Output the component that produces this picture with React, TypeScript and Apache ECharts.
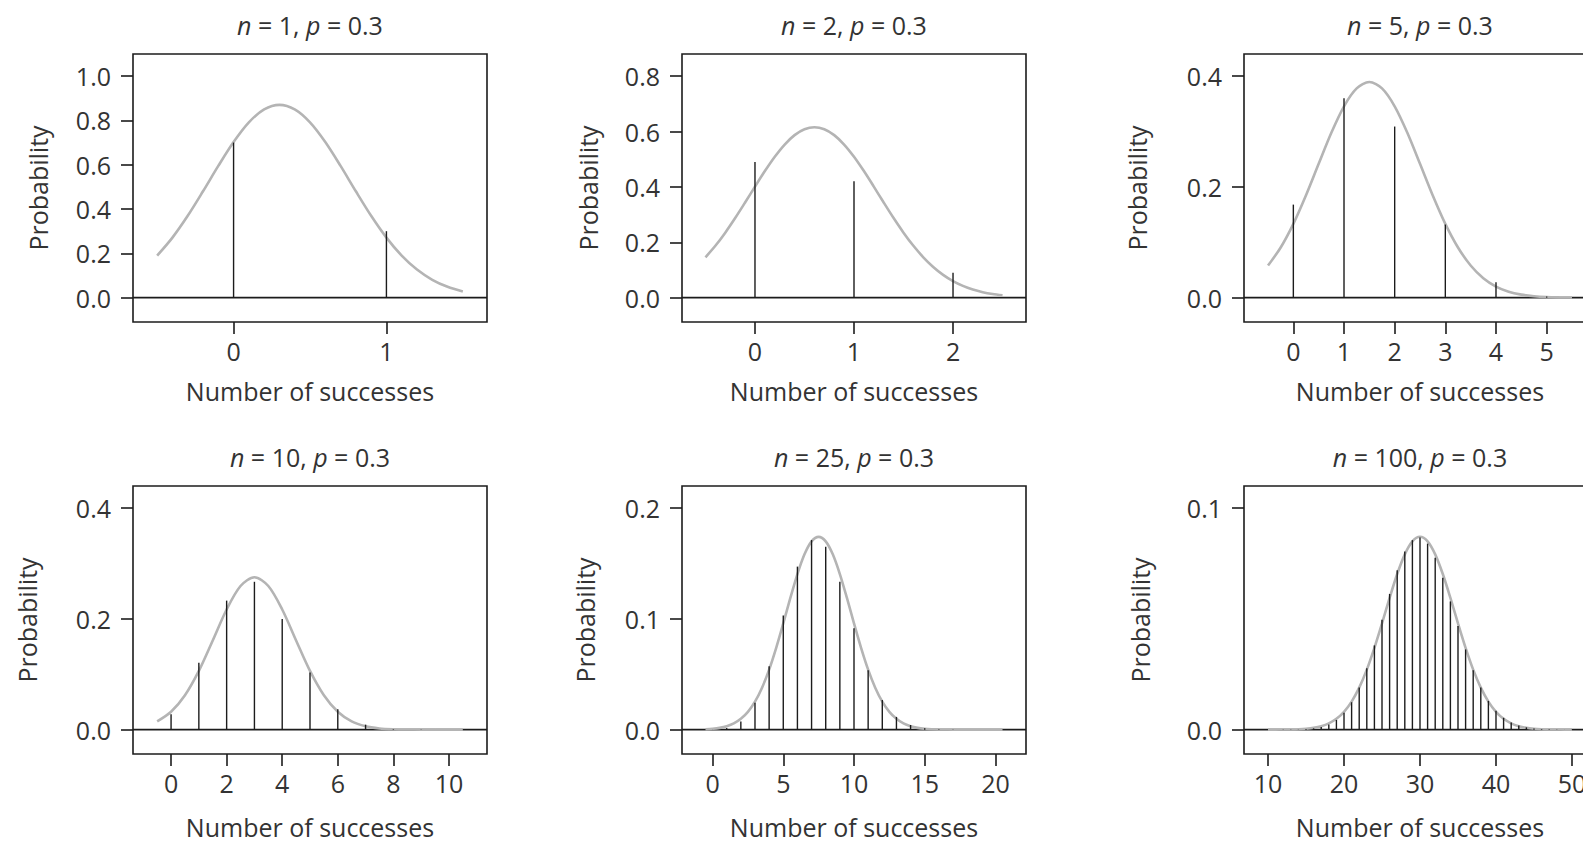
import React, { useEffect, useRef } from "react";
import * as echarts from "echarts";

// ---------------- data ----------------
const nValues = [1, 2, 5, 10, 25, 100];
const pLabel = "0.3";
const xLabel = "Number of successes";
const yLabel = "Probability";

// first k of each stem list
const stemStart = [0, 0, 0, 0, 0, 10];
const stemsN1 = [0.7, 0.3];
const stemsN2 = [0.49, 0.42, 0.09];
const stemsN5 = [0.168, 0.36, 0.309, 0.132, 0.028, 0.002];
const stemsN10 = [0.028, 0.121, 0.233, 0.267, 0.2, 0.103, 0.037, 0.009, 0.001, 0.0001, 0];
const stemsN25 = [
  0.0001, 0.0014, 0.0074, 0.0243, 0.0572, 0.103, 0.1472, 0.1712, 0.1651, 0.1336, 0.0916,
  0.0536, 0.0268, 0.0115, 0.0042, 0.0013, 0.0004, 0.0001, 0, 0, 0,
];
const stemsN100 = [
  0, 0, 0.00001, 0.00004, 0.0001, 0.00025, 0.00056, 0.00119, 0.00236, 0.00437, 0.00758,
  0.01237, 0.01904, 0.02767, 0.03804, 0.04956, 0.06127, 0.07197, 0.08041, 0.08556, 0.08678,
  0.08398, 0.07761, 0.06854, 0.05788, 0.04678, 0.0362, 0.02683, 0.01907, 0.01299, 0.00849,
  0.00533, 0.00321, 0.00185, 0.00103, 0.00055, 0.00028, 0.00014, 0.00007, 0.00003, 0.00001,
];
const stemValues = [stemsN1, stemsN2, stemsN5, stemsN10, stemsN25, stemsN100];

// grey curves: first x and spacing of the sampled points
const curveStart = [-0.5, -0.5, -0.5, -0.5, -0.5, 10];
const curveStep = [0.1, 0.1, 0.25, 0.5, 0.5, 1];
const curveN1 = [
  0.1897, 0.2711, 0.3695, 0.4801, 0.5947, 0.7026, 0.7915, 0.85, 0.8705, 0.85, 0.7915, 0.7026,
  0.5947, 0.4801, 0.3695, 0.2711, 0.1897, 0.1266, 0.0805, 0.0488, 0.0282,
];
const curveN2 = [
  0.1458, 0.1872, 0.2347, 0.2874, 0.3435, 0.401, 0.4571, 0.5089, 0.5531, 0.587, 0.6083, 0.6156,
  0.6083, 0.587, 0.5531, 0.5089, 0.4571, 0.401, 0.3435, 0.2874, 0.2347, 0.1872, 0.1458, 0.1109,
  0.0823, 0.0597, 0.0423, 0.0292, 0.0197, 0.013, 0.0084,
];
const curveN5 = [
  0.058, 0.0906, 0.1333, 0.185, 0.2418, 0.2978, 0.3456, 0.3779, 0.3893, 0.3779, 0.3456, 0.2978,
  0.2418, 0.185, 0.1333, 0.0906, 0.058, 0.035, 0.0199, 0.0106, 0.0054, 0.0026, 0.0011, 0.0005,
  0.0002,
];
const curveN10 = [
  0.0149, 0.0323, 0.0622, 0.1062, 0.1611, 0.217, 0.2594, 0.2753, 0.2594, 0.217, 0.1611, 0.1062,
  0.0622, 0.0323, 0.0149, 0.0061, 0.0022, 0.0007, 0.0002, 0.0001, 0, 0, 0,
];
const curveN25 = [
  0.0004, 0.0008, 0.0016, 0.0031, 0.0056, 0.0098, 0.0161, 0.0253, 0.0379, 0.0542, 0.0739, 0.096,
  0.1189, 0.1405, 0.1583, 0.17, 0.1741, 0.17, 0.1583, 0.1405, 0.1189, 0.096, 0.0739, 0.0542,
  0.0379, 0.0253, 0.0161, 0.0098, 0.0056, 0.0031, 0.0016, 0.0008, 0.0004, 0.0002, 0.0001, 0, 0,
  0, 0, 0, 0, 0, 0,
];
const curveN100 = [
  0.00001, 0.00002, 0.00004, 0.00009, 0.0002, 0.00041, 0.00082, 0.00156, 0.00282, 0.00488,
  0.00805, 0.01266, 0.01897, 0.02711, 0.03695, 0.04801, 0.05948, 0.07027, 0.07915, 0.08501,
  0.08706, 0.08501, 0.07915, 0.07027, 0.05948, 0.04801, 0.03695, 0.02711, 0.01897, 0.01266,
  0.00805, 0.00488, 0.00282, 0.00156, 0.00082, 0.00041, 0.0002, 0.00009, 0.00004, 0.00002,
  0.00001,
];
const curveValues = [curveN1, curveN2, curveN5, curveN10, curveN25, curveN100];

// tick labels
const yTicks = [
  [0, 0.2, 0.4, 0.6, 0.8, 1.0],
  [0, 0.2, 0.4, 0.6, 0.8],
  [0, 0.2, 0.4],
  [0, 0.2, 0.4],
  [0, 0.1, 0.2],
  [0, 0.1],
];
const xTicks = [
  [0, 1],
  [0, 1, 2],
  [0, 1, 2, 3, 4, 5],
  [0, 2, 4, 6, 8, 10],
  [0, 5, 10, 15, 20],
  [10, 20, 30, 40, 50],
];

// ---------------- layout ----------------
const colLeft = [133, 682, 1244];
const colWidth = [354, 344, 352];
const rowTop = [54, 486];
const titleTop = [12, 444];
const xNameGap = [59, 63];
const gridHeight = 268;
const xExtent = [
  [-0.658, 1.658],
  [-0.737, 2.737],
  [-0.974, 5.974],
  [-1.37, 11.37],
  [-2.16, 22.16],
  [6.84, 53.16],
];
const yTop = [1.0, 0.8, 0.4, 0.4, 0.2, 0.1];
const yNameGap = [83, 82, 95, 94, 85, 92];

const FONT = "'Open Sans', 'DejaVu Sans', sans-serif";
const TEXT = "#333333";
const INK = "#1c1c1c";
const CURVE = "#b4b4b4";
const FS = 25;

function buildOption() {
  const grid: any[] = [];
  const xAxis: any[] = [];
  const yAxis: any[] = [];
  const series: any[] = [];
  const title: any[] = [];

  for (let i = 0; i < 6; i++) {
    const r = Math.floor(i / 3);
    const c = i % 3;
    const left = colLeft[c];
    const width = colWidth[c];
    const top = rowTop[r];
    const [x0, x1] = xExtent[i];

    grid.push({
      left,
      top,
      width,
      height: gridHeight,
      show: true,
      borderColor: INK,
      borderWidth: 1.6,
      backgroundColor: "transparent",
    });

    title.push({
      text: `{i|n} = ${nValues[i]}, {i|p} = ${pLabel}`,
      left: left + width / 2,
      top: titleTop[r],
      textAlign: "center",
      padding: 0,
      textStyle: {
        fontSize: FS,
        fontWeight: "normal",
        color: TEXT,
        fontFamily: FONT,
        rich: {
          i: { fontStyle: "italic", fontSize: FS, color: TEXT, fontFamily: FONT },
        },
      },
    });

    xAxis.push({
      type: "value",
      gridIndex: i,
      min: x0,
      max: x1,
      position: "bottom",
      axisLine: { show: false, onZero: false },
      axisTick: {
        show: true,
        inside: false,
        length: 12,
        customValues: xTicks[i],
        lineStyle: { color: INK, width: 1.6 },
      },
      axisLabel: {
        show: true,
        customValues: xTicks[i],
        margin: 16,
        fontSize: FS,
        color: TEXT,
        fontFamily: FONT,
        formatter: (v: number) => String(Math.round(v)),
      },
      splitLine: { show: false },
      name: xLabel,
      nameLocation: "middle",
      nameGap: xNameGap[r],
      nameTextStyle: { fontSize: FS, lineHeight: 20, color: TEXT, fontFamily: FONT },
    });

    yAxis.push({
      type: "value",
      gridIndex: i,
      min: -0.11 * yTop[i],
      max: 1.1 * yTop[i],
      position: "left",
      axisLine: { show: false, onZero: false },
      axisTick: {
        show: true,
        inside: false,
        length: 12,
        customValues: yTicks[i],
        lineStyle: { color: INK, width: 1.6 },
      },
      axisLabel: {
        show: true,
        customValues: yTicks[i],
        margin: 22,
        fontSize: FS,
        color: TEXT,
        fontFamily: FONT,
        formatter: (v: number) => v.toFixed(1),
      },
      splitLine: { show: false },
      name: yLabel,
      nameLocation: "middle",
      nameGap: yNameGap[i],
      nameTextStyle: { fontSize: FS, color: TEXT, fontFamily: FONT },
    });

    // horizontal line at zero
    series.push({
      type: "line",
      xAxisIndex: i,
      yAxisIndex: i,
      data: [
        [x0, 0],
        [x1, 0],
      ],
      symbol: "none",
      silent: true,
      lineStyle: { color: INK, width: 1.8 },
      z: 2,
    });

    // grey curve
    const cv = curveValues[i];
    series.push({
      type: "line",
      xAxisIndex: i,
      yAxisIndex: i,
      data: cv.map((v, k) => [curveStart[i] + k * curveStep[i], v]),
      symbol: "none",
      smooth: 0.3,
      silent: true,
      lineStyle: { color: CURVE, width: 2.6 },
      z: 3,
    });

    // stems
    const sv = stemValues[i];
    series.push({
      type: "custom",
      xAxisIndex: i,
      yAxisIndex: i,
      silent: true,
      data: sv.map((v, k) => [stemStart[i] + k, v]),
      renderItem: (_params: any, api: any) => {
        const xv = api.value(0);
        const yv = api.value(1);
        const p0 = api.coord([xv, 0]);
        const p1 = api.coord([xv, yv]);
        return {
          type: "line",
          shape: { x1: p0[0], y1: p0[1], x2: p1[0], y2: p1[1] },
          style: { stroke: INK, lineWidth: 1.4 },
        };
      },
      z: 4,
    });
  }

  return {
    animation: false,
    backgroundColor: "#ffffff",
    title,
    grid,
    xAxis,
    yAxis,
    series,
  };
}

export default function App() {
  const ref = useRef<HTMLDivElement>(null);
  useEffect(() => {
    if (!ref.current) return;
    const chart = echarts.init(ref.current, undefined, { renderer: "svg" });
    chart.setOption(buildOption() as any);
    return () => {
      chart.dispose();
    };
  }, []);
  return (
    <div
      style={{
        position: "absolute",
        left: 0,
        top: 0,
        width: 1583,
        height: 845,
        overflow: "hidden",
        background: "#fff",
      }}
    >
      <div ref={ref} style={{ width: 1640, height: 845 }} />
    </div>
  );
}
